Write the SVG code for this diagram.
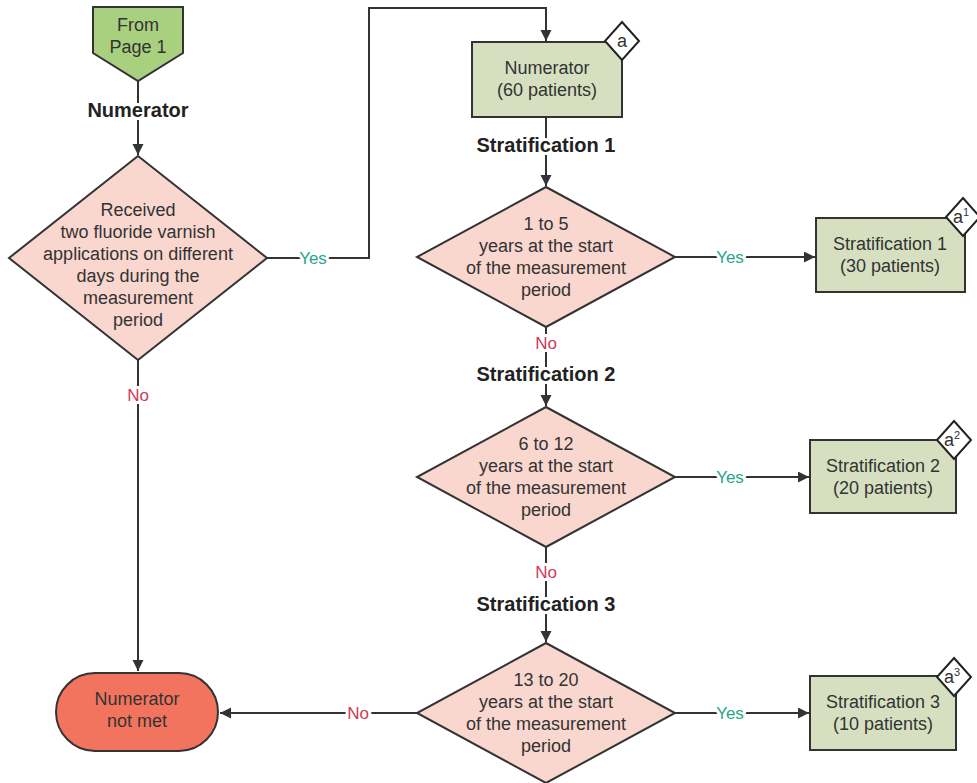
<svg xmlns="http://www.w3.org/2000/svg" width="977" height="783" viewBox="0 0 977 783">
<style>
  text { font-family: "Liberation Sans", Arial, sans-serif; fill: #333; text-anchor: middle; }
  .t { font-size: 18px; }
  .b { font-size: 20px; font-weight: bold; fill: #222; }
  .yes { font-size: 17px; fill: #2aa58a; }
  .no { font-size: 17px; fill: #cf3a56; }
  .mask { stroke: #fff; stroke-width: 6px; paint-order: stroke; stroke-linejoin: round; }
  .edge { fill: none; stroke: #333; stroke-width: 2; }
  .box { fill: #d6e0c0; stroke: #333; stroke-width: 2; }
  .dia { fill: #f9d7cf; stroke: #333; stroke-width: 2; }
  .badge { fill: #fff; stroke: #222; stroke-width: 2; }
  .bt { font-size: 18px; }
  .sup { font-size: 11px; }
</style>
<defs>
  <marker id="arr" markerUnits="userSpaceOnUse" markerWidth="12" markerHeight="12" refX="11" refY="5.5" orient="auto">
    <path d="M0,0 L11,5.5 L0,11 z" fill="#333"/>
  </marker>
</defs>

<g id="connectors">
  <path class="edge" d="M138,81 L138,155" marker-end="url(#arr)"/>
  <path class="edge" d="M267,258 L369,258 L369,8 L546,8 L546,41" marker-end="url(#arr)"/>
  <path class="edge" d="M138,360 L138,671" marker-end="url(#arr)"/>
  <path class="edge" d="M546,117 L546,186" marker-end="url(#arr)"/>
  <path class="edge" d="M675,257 L815,257" marker-end="url(#arr)"/>
  <path class="edge" d="M546,327 L546,406" marker-end="url(#arr)"/>
  <path class="edge" d="M675,477 L809,477" marker-end="url(#arr)"/>
  <path class="edge" d="M546,547 L546,642" marker-end="url(#arr)"/>
  <path class="edge" d="M675,713 L809,713" marker-end="url(#arr)"/>
  <path class="edge" d="M417,713 L220,713" marker-end="url(#arr)"/>
  <text class="b mask" x="138" y="117">Numerator</text>
  <text class="yes mask" x="313" y="264">Yes</text>
  <text class="no mask" x="138" y="401">No</text>
  <text class="b mask" x="546" y="152">Stratification 1</text>
  <text class="yes mask" x="730" y="263">Yes</text>
  <text class="no mask" x="546" y="349">No</text>
  <text class="b mask" x="546" y="381">Stratification 2</text>
  <text class="yes mask" x="730" y="483">Yes</text>
  <text class="no mask" x="546" y="578">No</text>
  <text class="b mask" x="546" y="611">Stratification 3</text>
  <text class="yes mask" x="730" y="719">Yes</text>
  <text class="no mask" x="358" y="719">No</text>
</g>

<g id="from-page-1">
  <polygon points="93,7 183,7 183,53 138,81 93,53" fill="#a8d07f" stroke="#333" stroke-width="2"/>
  <text class="t" x="138" y="31">From</text>
  <text class="t" x="138" y="53">Page 1</text>
</g>

<g id="decision-fluoride">
  <polygon class="dia" points="138,156 267,258 138,360 9,258"/>
  <text class="t" x="138" y="216">Received</text>
  <text class="t" x="138" y="238">two fluoride varnish</text>
  <text class="t" x="138" y="260">applications on different</text>
  <text class="t" x="138" y="282">days during the</text>
  <text class="t" x="138" y="304">measurement</text>
  <text class="t" x="138" y="326">period</text>
</g>

<g id="numerator-box">
  <rect class="box" x="472" y="42" width="150" height="75"/>
  <text class="t" x="547" y="74">Numerator</text>
  <text class="t" x="547" y="96">(60 patients)</text>
  <polygon class="badge" points="622,22 639,41 622,60 605,41"/>
  <text class="bt" x="622" y="47">a</text>
</g>

<g id="decision-1to5">
  <polygon class="dia" points="546,187 675,257 546,327 417,257"/>
  <text class="t" x="546" y="230">1 to 5</text>
  <text class="t" x="546" y="252">years at the start</text>
  <text class="t" x="546" y="274">of the measurement</text>
  <text class="t" x="546" y="296">period</text>
</g>

<g id="strat-1-box">
  <rect class="box" x="816" y="218" width="149" height="74"/>
  <text class="t" x="890" y="250">Stratification 1</text>
  <text class="t" x="890" y="272">(30 patients)</text>
  <polygon class="badge" points="963,198 980,217 963,236 946,217"/>
  <text class="bt" x="961" y="223">a<tspan class="sup" dy="-7">1</tspan></text>
</g>

<g id="decision-6to12">
  <polygon class="dia" points="546,407 675,477 546,547 417,477"/>
  <text class="t" x="546" y="450">6 to 12</text>
  <text class="t" x="546" y="472">years at the start</text>
  <text class="t" x="546" y="494">of the measurement</text>
  <text class="t" x="546" y="516">period</text>
</g>

<g id="strat-2-box">
  <rect class="box" x="810" y="440" width="146" height="73"/>
  <text class="t" x="883" y="472">Stratification 2</text>
  <text class="t" x="883" y="494">(20 patients)</text>
  <polygon class="badge" points="954,421 971,440 954,459 937,440"/>
  <text class="bt" x="952" y="446">a<tspan class="sup" dy="-7">2</tspan></text>
</g>

<g id="decision-13to20">
  <polygon class="dia" points="546,643 675,713 546,783 417,713"/>
  <text class="t" x="546" y="686">13 to 20</text>
  <text class="t" x="546" y="708">years at the start</text>
  <text class="t" x="546" y="730">of the measurement</text>
  <text class="t" x="546" y="752">period</text>
</g>

<g id="strat-3-box">
  <rect class="box" x="810" y="676" width="146" height="74"/>
  <text class="t" x="883" y="708">Stratification 3</text>
  <text class="t" x="883" y="730">(10 patients)</text>
  <polygon class="badge" points="954,658 971,677 954,696 937,677"/>
  <text class="bt" x="952" y="683">a<tspan class="sup" dy="-7">3</tspan></text>
</g>

<g id="numerator-not-met">
  <rect x="56" y="673" width="162" height="78" rx="39" ry="39" fill="#f2745f" stroke="#333" stroke-width="2"/>
  <text class="t" x="137" y="705">Numerator</text>
  <text class="t" x="137" y="727">not met</text>
</g>
</svg>
